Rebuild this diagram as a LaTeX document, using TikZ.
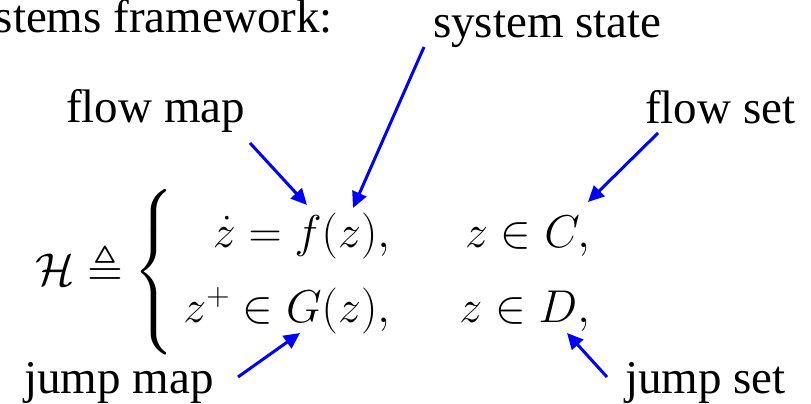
\RequirePackage{fix-cm}
\documentclass[tikz,border=0pt]{standalone}
\usepackage{amsmath,amssymb}
\usepackage{fontspec}
\setmainfont{Liberation Serif}
\usetikzlibrary{arrows.meta}
\begin{document}
\begin{tikzpicture}[x=1pt,y=-1pt,
  lbl/.style={inner sep=0pt,font=\fontsize{47}{56}\selectfont},
  mth/.style={inner sep=0pt,font=\fontsize{46}{55}\selectfont},
  arr/.style={draw=blue,line width=3pt,-{Triangle[length=16pt,width=15pt]}}]
\useasboundingbox (0,0) rectangle (811,404);
% labels
\node[lbl,anchor=base east] (fw) at (333,33) {stems framework:};
\node[lbl,anchor=base west] (ss) at (433,38) {system state};
\node[lbl,anchor=base west] (fm) at (66,122) {flow map};
\node[lbl,anchor=base west] (fs) at (645,123) {flow set};
\node[lbl,anchor=base west] (jm) at (24,393) {jump map};
\node[lbl,anchor=base west] (js) at (625,393) {jump set};
% equation
\node[mth,anchor=base west] (H) at (35,285) {$\mathcal{H}\triangleq$};
\node[mth] (br) at (155,272) {$\vcenter{\hbox{$\left\{\vrule height 62pt depth 62pt width 0pt\right.$}}$};
\node[mth,anchor=base east] (r1) at (390,247) {$\dot z = f(z),$};
\node[mth,anchor=base east] (r2) at (390,322) {$z^{+} \in G(z),$};
\node[mth,anchor=base east] (c1) at (590,247) {$z \in C,$};
\node[mth,anchor=base east] (c2) at (590,322) {$z \in D,$};
% arrow end points
\coordinate (fmS) at (250,143);
\coordinate (fmT) at (307,205);
\coordinate (ssS) at (424,47);
\coordinate (ssT) at (353,208);
\coordinate (fsS) at (658,133);
\coordinate (fsT) at (588,202);
\coordinate (jmS) at (238,377);
\coordinate (jmT) at (300,333);
\coordinate (jsS) at (607,377);
\coordinate (jsT) at (567,333);
\draw[arr] (fmS) -- (fmT);
\draw[arr] (ssS) -- (ssT);
\draw[arr] (fsS) -- (fsT);
\draw[arr] (jmS) -- (jmT);
\draw[arr] (jsS) -- (jsT);
\end{tikzpicture}
\end{document}
